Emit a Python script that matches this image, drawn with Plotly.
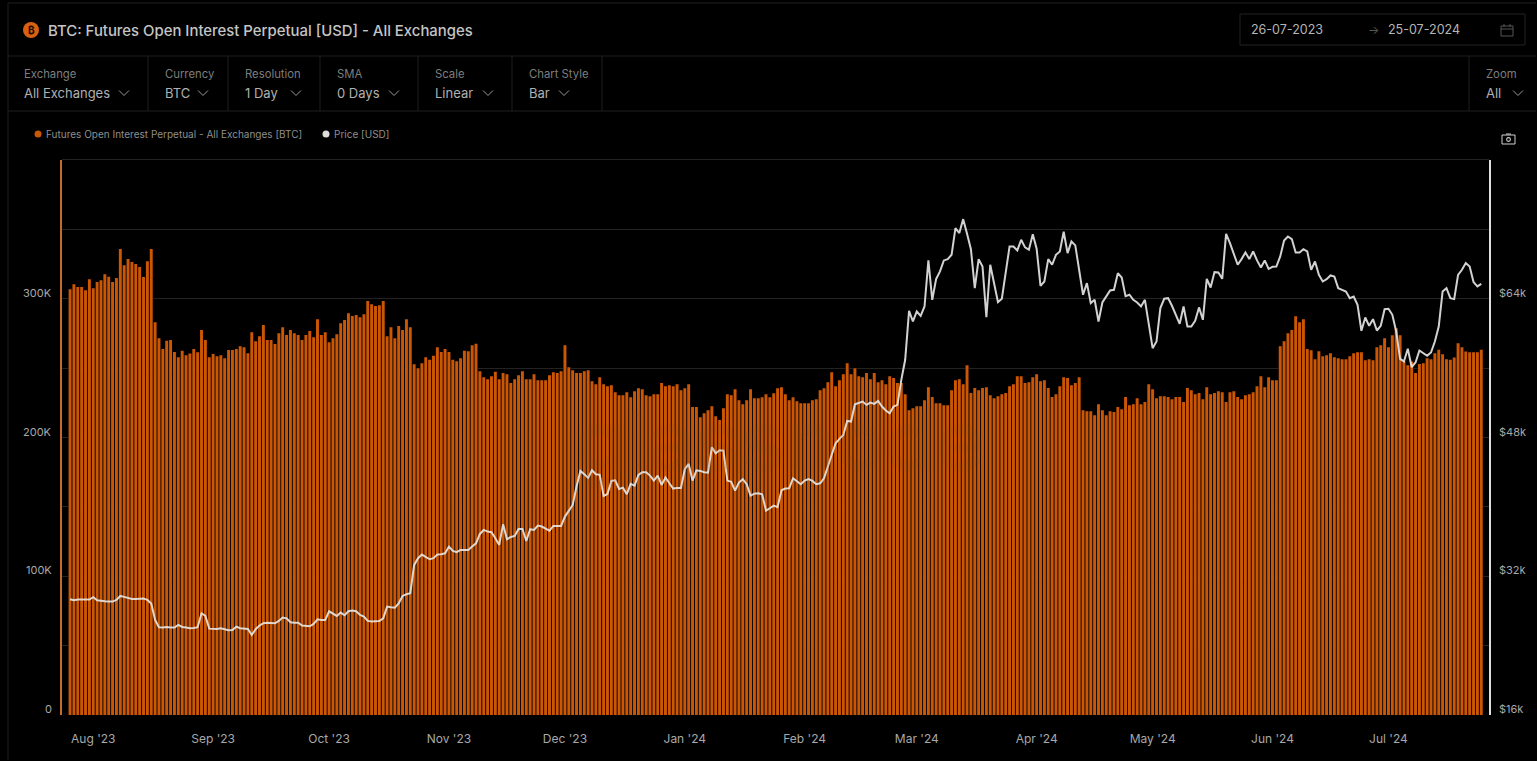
import pandas as pd
import plotly.graph_objects as go

# Open interest, thousands of BTC, one value per day from 26-07-2023
open_interest_a = [
 306.9,310.5,308.4,308.4,306.2,314.1,307.6,312,313.4,317.7,315.8,312,314.9,335.8,324.2,328.6,326.4,325,322.8,315.6,
 327.1,335.8,283.1,271.6,263.7,269.7,270.2,261.7,257.9,262.5,259.3,260.6,263.7,261.5,277.4,270.2,257.9,260.1,258.6,259.3,
 257.2,263,263,263.7,265.8,265.1,260.8,275.9,269.4,273,281,270.2,270.2,267.3,275.2,279.5,273.8,277.4,275.2,273.8,
 270.2,273.8,276.7,272.3,285.3,273.8,275.9,268.7,271.6,274.5,282.4,284.6,289.6,287.5,288.2,286.7,288.9,298.3,296.1,294.7,
 295.4,298.3,273,279.5,271.6,280.3,277.4,285.3,279.5,252.8,249.9,253.5,257.8]
open_interest_b = [
 256,258.9,265.1,261.7,263.7,261.7,256,255,257.2,262.5,262.2,266.5,267.5,247.8,243.5,242,244.2,247.3,242,246.4,
 245.6,239.2,242,244.9,247.8,242,242,245.6,241.3,241.3,241.3,244.9,247.1,246.4,247.8,266.5,250.7,248.5,246.4,246.4,
 247.8,248.5,240.6,238.4,243.5,238.4,237,237.7,232.7,230.5,230.5,232.7,229,233.4,235.5,234.8,230.5,229.8,231.2,231.2,
 239.2,237,237.7,237,238.4,234.1,235.5,238.4,221.9,221.9,214.6,217.5,219.7,222.6,215.4,212.7,221.1,231.2,230.5,234.8,
 226.9,224,226.9,234.8,228.3,228.3,229,231.2,229,231.9,235.5,236.3,231.2,226.9,229,226.2,224.7,224.7,224.7,226.9,
 227.6,234.1,235.5,239.9,247.1,237,241.3,245.6,253.6,245.6,250,244.2,243.5,246.4,242,246.4,239.9,241.3,238.4,244.2,
 242.8,239.2,239.2,231.2,219.7,221.1,222.6,222.6,226.9,236.3]
open_interest_c = [
 229.1,224.7,224.7,223.3,223.3,234.1,241.3,242,238.4,252.1,232,235.6,234.1,235.6,236.3,230.5,228.3,229.8,231.2,232,
 237,238.4,244.2,244.2,239.2,239.9,243.5,245.6,240.6,241.3,235.6,229.1,231.2,237,243.5,242.8,237.7,239.2,243.5,219.7,
 219,219,216.1,224,219.7,216.1,219,218.3,221.9,220.4,229.1,223.3,224,228.3,224,225.5,238.4,234.8,228.3,229.8,
 229.8,229.1,227.6,229.1,229.1,225.5,235.6,234.1,231.2,232,227.6,236.3,231.2,232,233.4,232.7,225.5,232.7,233.4,229.1,
 227.6,230.5,231.2,232.7,237,244.2,236.3,243.5,241.3,241.3]
open_interest_d = [
 265.8,269.4,275.2,277.4,287.4,283.1,285.3,263.7,262.9,256.4,262.2,258.6,259.3,260.8,257.9,257.2,256.4,256.4,258.6,260.8,
 261.5,261.5,255.7,256.4,255.7,265.1,266.5,271.6,265.1,273.7,278.8,273.7,
 255,252,254.8,246.4,253,253.6,257.2,256.4,260.8,263.2,260,256.4,256,257.6,268,265.1,262,261.5,261.5,261.5,263.2]

# BTC price, thousands of USD
price_a = [
 29.35,29.23,29.31,29.35,29.31,29.31,29.58,29.23,29.15,29.12,29.08,29.08,29.27,29.73,29.62,29.46,29.38,29.38,29.38,29.42,
 29.27,28.85,26.96,26.12,26.08,26.15,26.08,26.08,26.39,26.15,26.08,26,26.04,26.12,27.73,27.42,25.96,25.92,25.92,26,
 25.89,25.77,25.81,26.19,26,25.96,25.92,25.23,25.89,26.31,26.58,26.65,26.58,26.58,26.85,27.23,27.15,26.69,26.65,26.65,
 26.31,26.23,26.23,26.5,27.04,26.96,26.96,27.96,27.65,27.42,27.81,27.5,27.96,28.04,27.96,27.54,27.35,26.85,26.77,26.77,
 26.85,27.15,28.5,28.42,28.38,28.88,29.73,29.92,30.04,33.31,34.08,34.5,34.19,33.96,34.08,34.5,34.54,34.65,35.42,34.92,
 34.77,35.04,35.04,35.04]
price_b = [
 35.42,35.8,36.88,37.34,37.15,37.07,36.38,35.61,37.99,36.26,36.53,36.65,37.46,37.46,36.07,37.42,37.34,37.84,37.73,37.46,
 37.26,37.8,37.84,37.8,38.88,39.57,40.22,42.34,44.15,43.76,43.34,44.22,43.76,43.69,41.26,41.49,42.99,43.07,42.07,42.22,
 41.46,42.65,42.45,43.69,43.99,43.99,43.61,43.03,43.61,42.53,43.38,42.72,42.11,42.19,42.19,44.34,44.95,43.03,44.22,44.15,
 43.99,43.95,46.88,46.18,46.53,46.49,43.03,42.88,41.88,42.8,43.2,42.61,41.3,41.53,41.57,41.46,39.57,39.84,40.15,39.96,
 41.92,42.11,42.15,43.3,42.92,42.61,43.03,43.2,42.99,42.61,42.72,43.3,44.65,45.99,47.34,47.84,48.3,49.91,49.84,51.84,
 52.03,52.14,51.76,52.03,51.88,52.22,51.57,51.11,50.8,51.57,51.76]
price_c = [
 54.65,56.96,62.61,61.38,62.53,62.03,63.11,68.42,63.88,66.26,67.15,68.42,68.57,69.07,72.15,71.57,73.18,71.49,69.72,65.22,
 68.57,67.72,61.88,67.92,65.61,63.61,64,66.95,70.03,70.03,69.57,70.8,69.92,69.65,71.45,69.76,65.49,65.99,68.57,67.92,
 69.07,69.45,71.72,69.26,70.61,70.15,67.34,64.46,65.8,63.5,63.88,61.38,63.57,64.19,64.95,65.03,66.95,66.45,64.3,64.46,
 63.88,63.57,63.11,63.88,60.8,58.3,59.07,62.92,64,64.07,63.19,62.15,61.11,63.11,60.8,60.8,61.46,63,61.57,66.3,
 65.3,67.07,67.03,66.3,71.49,70.41,69.26,67.92,68.57,69.34,68.57,69.45,68.42,67.61,68.42,67.45,67.69,67.72,68.88,70.72,
 71.18,70.88,69.34,69.34,69.72,69.45,67.34,68.3,66.76,65.99,66.26,66.69,66.57,65.22,65.03,64.84,64.07,64.26,63.3,60.3,
 61.84,60.88,61.65,60.34,60.88,62.8,62.84,62.15,60.23,57.07,56.77,58.23,56.11,56.65,58.03,57.73,57.42,57.8,59.07,60.8,
 64.84,65.22,64.07,63.96,66.76,67.34,68.11,67.72,65.92,65.42,65.72]

open_interest = open_interest_a + open_interest_b + open_interest_c + open_interest_d
price = price_a + price_b + price_c
dates = pd.date_range("2023-07-26", "2024-07-25", freq="D")
assert len(open_interest) == len(dates) and len(price) == len(dates), (len(open_interest), len(price), len(dates))

oi_grid = [0, 50, 100, 150, 200, 250, 300, 350, 400]
oi_ticks = [0, 100, 200, 300]
oi_labels = ["0", "100K", "200K", "300K"]
price_ticks = [16, 32, 48, 64]
price_labels = ["$16k", "$32k", "$48k", "$64k"]
month_ticks = ["2023-08-01","2023-09-01","2023-10-01","2023-11-01","2023-12-01","2024-01-01",
               "2024-02-01","2024-03-01","2024-04-01","2024-05-01","2024-06-01","2024-07-01"]
month_labels = ["Aug '23","Sep '23","Oct '23","Nov '23","Dec '23","Jan '24","Feb '24","Mar '24","Apr '24","May '24","Jun '24","Jul '24"]

ORANGE = "#cb5704"
FONT = "Inter"
DAY_MS = 86400000
L, R, T, B = 62, 1489, 160, 715
px = lambda x: (x - L) / (R - L)
py = lambda y: (B - y) / (B - T)

shapes, notes = [], []

def line(x0, y0, x1, y1, color="#1e1e1e", width=1):
    shapes.append(dict(type="line", xref="paper", yref="paper", x0=px(x0), y0=py(y0), x1=px(x1), y1=py(y1),
                       line=dict(color=color, width=width)))

def text(x, y, s, size=12, color="#8c8c8c", anchor="left", weight=400):
    notes.append(dict(xref="paper", yref="paper", x=px(x), y=py(y), text=s, showarrow=False, xanchor=anchor,
                      yanchor="middle", borderpad=0, borderwidth=0,
                      font=dict(family=FONT, size=size, color=color, weight=weight)))

def axis_label(x, value, s, axis, anchor):
    # sits just above its gridline, as in the source chart
    notes.append(dict(xref="paper", yref=axis, x=px(x), y=value, yshift=6, text=s, showarrow=False, xanchor=anchor,
                      yanchor="middle", borderpad=0, borderwidth=0, font=dict(family=FONT, size=11, color="#a8a8a8")))

def chevron(x, y):
    line(x - 5, y - 2.5, x, y + 2.5, "#9a9a9a", 1)
    line(x, y + 2.5, x + 5, y - 2.5, "#9a9a9a", 1)

def dot(x, y, r, color):
    shapes.append(dict(type="circle", xref="paper", yref="paper", x0=px(x - r), x1=px(x + r), y0=py(y + r), y1=py(y - r),
                       fillcolor=color, line=dict(width=0)))

def box(x0, y0, x1, y1, color="#222222", width=1):
    shapes.append(dict(type="rect", xref="paper", yref="paper", x0=px(x0), x1=px(x1), y0=py(y1), y1=py(y0),
                       line=dict(color=color, width=width)))

# page frame
line(8, 3, 1536, 3); line(8, 3, 8, 760)
line(8, 56, 1536, 56); line(8, 111, 1536, 111)
for sx in [148, 228, 320, 418, 512, 602, 1469]:
    line(sx, 56, sx, 111)

# header
dot(31, 30, 8, "#d9600f")
text(31, 30, "₿", 10, "#1a0a00", "center", 700)
text(48, 31, "BTC: Futures Open Interest Perpetual [USD] - All Exchanges", 14.9, "#c4c4c4", "left", 500)
box(1240, 14, 1525, 45)
text(1251, 30, "26-07-2023", 12.5, "#b5b5b5")
text(1373, 30, "→", 12, "#555555", "center")
text(1388, 30, "25-07-2024", 12.5, "#b5b5b5")
box(1501, 26, 1513, 36, "#555555")
line(1501, 29, 1513, 29, "#555555"); line(1504, 24, 1504, 27, "#555555"); line(1510, 24, 1510, 27, "#555555")

# selectors
selectors = [("Exchange", "All Exchanges", 24, 124), ("Currency", "BTC", 165, 203), ("Resolution", "1 Day", 245, 296),
             ("SMA", "0 Days", 337, 394), ("Scale", "Linear", 435, 488), ("Chart Style", "Bar", 529, 564), ("Zoom", "All", 1486, 1518)]
for head, val, sx, cx in selectors:
    text(sx, 73.5, head, 11.3, "#7e7e7e")
    text(sx, 93, val, 13, "#b0b0b0")
    chevron(cx, 93)

# legend
dot(38, 134, 3.5, ORANGE)
text(46, 134, "Futures Open Interest Perpetual - All Exchanges [BTC]", 10, "#8f8f8f")
dot(326, 134, 3.5, "#dddddd")
text(334, 134, "Price [USD]", 10, "#8f8f8f")

# top gridline of the plot area
line(L, 159.5, R, 159.5, "#232323")

# camera icon
box(1502, 135, 1515, 144, "#d0d0d0")
dot(1508.5, 139.5, 2.4, "#d0d0d0")
dot(1508.5, 139.5, 1.3, "#000000")
line(1506, 134, 1511, 134, "#d0d0d0")

# watermark
text(780, 441, "glassnode", 82, "rgba(120,70,30,0.10)", "center", 600)

# axis labels
for v, s in zip(oi_ticks, oi_labels):
    axis_label(52, v, s, "y", "right")
for v, s in zip(price_ticks, price_labels):
    axis_label(1499, v, s, "y2", "left")

fig = go.Figure()
# black backing of the same bars keeps gridlines out of the gaps between them
fig.add_bar(x=dates, y=open_interest, width=DAY_MS, marker=dict(color="#000000", line=dict(width=0)),
            hoverinfo="skip", yaxis="y")
fig.add_bar(x=dates, y=open_interest, width=0.76 * DAY_MS, name="Futures Open Interest Perpetual - All Exchanges [BTC]",
            marker=dict(color=ORANGE, line=dict(width=0)), yaxis="y")
fig.add_scatter(x=dates, y=price, name="Price [USD]", mode="lines", yaxis="y2",
                line=dict(color="rgba(228,228,228,0.92)", width=2))

fig.update_layout(
    width=1537, height=761, autosize=False, showlegend=False, barmode="overlay",
    paper_bgcolor="#000000", plot_bgcolor="#000000",
    margin=dict(l=L, r=1537 - R, t=T, b=761 - B, pad=0),
    font=dict(family=FONT, color="#a8a8a8", size=11),
    shapes=shapes, annotations=notes,
    xaxis=dict(type="date", range=["2023-07-23 22:00", "2024-07-27 00:00"], tickvals=month_ticks, ticktext=month_labels,
               ticks="outside", ticklen=13, tickcolor="rgba(0,0,0,0)", showgrid=False, zeroline=False, showline=False,
               tickfont=dict(size=12, color="#a8a8a8")),
    yaxis=dict(range=[0, 400], tickmode="array", tickvals=oi_grid, showticklabels=False, ticks="",
               showgrid=True, gridcolor="#232323", gridwidth=1, zeroline=False, showline=True, linecolor="#c46a2c", linewidth=2),
    yaxis2=dict(range=[16, 80], overlaying="y", side="right", tickmode="array", tickvals=price_ticks, showticklabels=False, ticks="",
                showgrid=False, zeroline=False, showline=True, linecolor="#dedede", linewidth=2),
)

fig.write_html("out.html", post_script="document.documentElement.style.overflow='hidden';document.body.style.margin='0';document.body.style.background='#000';document.body.style.overflow='hidden';",
               config=dict(displayModeBar=False))
